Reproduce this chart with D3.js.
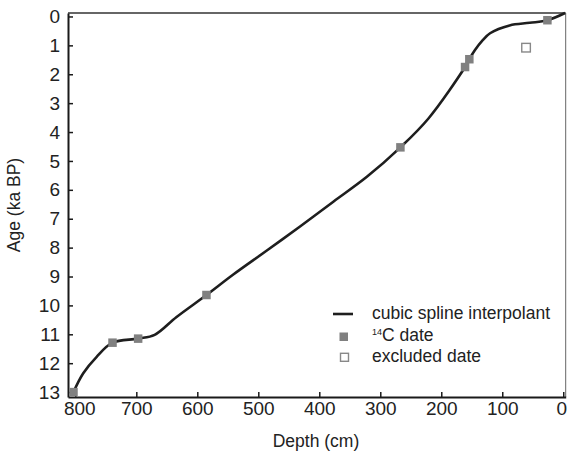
<!DOCTYPE html>
<html>
<head>
<meta charset="utf-8">
<script src="https://cdn.jsdelivr.net/npm/d3@7"></script>
<style>
  html, body { margin: 0; padding: 0; background: #fff; }
  svg { display: block; font-family: "Liberation Sans", Arial, sans-serif; }
</style>
</head>
<body>
<svg id="chart" width="567" height="458"></svg>
<script>
// Cubic spline interpolant (depth cm, age ka BP)
const splineDepth = [-3, 26, 55, 88, 120, 132, 145, 154, 161, 221, 267, 322, 377, 431, 486, 541, 585, 634, 670, 697, 739, 765, 787, 803];
const splineAge   = [-0.12, 0.13, 0.22, 0.31, 0.58, 0.82, 1.17, 1.48, 1.75, 3.53, 4.53, 5.55, 6.41, 7.26, 8.1, 8.93, 9.64, 10.4, 11.02, 11.15, 11.29, 11.78, 12.35, 13.0];
// 14C dates
const dateDepth = [26, 154, 161, 267, 585, 697, 739, 803];
const dateAge   = [0.13, 1.48, 1.75, 4.53, 9.64, 11.15, 11.29, 13.0];
// excluded dates
const exclDepth = [61];
const exclAge   = [1.08];
// ticks
const xTicks = [0, 100, 200, 300, 400, 500, 600, 700, 800];
const yTicks = [0, 1, 2, 3, 4, 5, 6, 7, 8, 9, 10, 11, 12, 13];
const legendLabels = ["cubic spline interpolant", "C date", "excluded date"];

const svg = d3.select("#chart");
const L = 68, R = 565.7, T = 13, B = 397;
const FONT = "'Liberation Sans', Arial, sans-serif";

const x = d3.scaleLinear().domain([812, -4]).range([L, R]);
const y = d3.scaleLinear().domain([-0.12, 13.17]).range([T, B]);

// frame: top and right lines
svg.append("line").attr("x1", L).attr("x2", R).attr("y1", T).attr("y2", T)
  .attr("stroke", "#333").attr("stroke-width", 1.6);
svg.append("line").attr("x1", R).attr("x2", R).attr("y1", T).attr("y2", B)
  .attr("stroke", "#666").attr("stroke-width", 1);

// axes
const xAxis = d3.axisBottom(x).tickValues(xTicks).tickSizeInner(-5).tickSizeOuter(0).tickPadding(5);
const gx = svg.append("g").attr("transform", `translate(0,${B})`).call(xAxis);
gx.select(".domain").attr("stroke", "#1a1a1a").attr("stroke-width", 2);
gx.selectAll(".tick line").attr("stroke", "#1a1a1a").attr("stroke-width", 1.5);
gx.selectAll(".tick text").attr("font-size", 19).attr("fill", "#222")
  .attr("font-family", FONT)
  .attr("dx", d => d === 0 ? -2 : (d === 800 ? 4 : 0));

const yAxis = d3.axisLeft(y).tickValues(yTicks).tickSizeInner(-5).tickSizeOuter(0).tickPadding(8);
const gy = svg.append("g").attr("transform", `translate(${L},0)`).call(yAxis);
gy.select(".domain").attr("stroke", "#1a1a1a").attr("stroke-width", 2);
gy.selectAll(".tick line").attr("stroke", "#1a1a1a").attr("stroke-width", 1.5);
gy.selectAll(".tick text").attr("font-size", 19).attr("fill", "#222")
  .attr("font-family", FONT);

// axis titles
svg.append("text").attr("x", 316).attr("y", 447).attr("text-anchor", "middle")
  .attr("font-size", 17.5).attr("fill", "#222").text("Depth (cm)");
svg.append("text").attr("transform", "translate(20,205) rotate(-90)").attr("text-anchor", "middle")
  .attr("font-size", 17.5).attr("fill", "#222").text("Age (ka BP)");

// spline curve
const spline = splineDepth.map((d, i) => [d, splineAge[i]]);
const line = d3.line().x(d => x(d[0])).y(d => y(d[1])).curve(d3.curveCatmullRom.alpha(0.5));
svg.append("path").datum(spline).attr("d", line)
  .attr("fill", "none").attr("stroke", "#1e1e1e").attr("stroke-width", 2.6);

// 14C date markers
const ms = 8.5;
const dates = dateDepth.map((d, i) => [d, dateAge[i]]);
svg.selectAll("rect.date").data(dates).enter().append("rect")
  .attr("class", "date")
  .attr("x", d => x(d[0]) - ms / 2).attr("y", d => y(d[1]) - ms / 2)
  .attr("width", ms).attr("height", ms).attr("fill", "#808080");

// excluded
const excl = exclDepth.map((d, i) => [d, exclAge[i]]);
svg.selectAll("rect.excl").data(excl).enter().append("rect")
  .attr("class", "excl")
  .attr("x", d => x(d[0]) - 4.3).attr("y", d => y(d[1]) - 4.3)
  .attr("width", 8.6).attr("height", 8.6)
  .attr("fill", "#fff").attr("stroke", "#888").attr("stroke-width", 1.4);

// legend
const lg = svg.append("g");
lg.append("line").attr("x1", 333).attr("x2", 353).attr("y1", 314).attr("y2", 314)
  .attr("stroke", "#1e1e1e").attr("stroke-width", 2.6);
lg.append("rect").attr("x", 339.5).attr("y", 332.5).attr("width", 8.5).attr("height", 8.5).attr("fill", "#808080");
lg.append("rect").attr("x", 340.5).attr("y", 353.3).attr("width", 8).attr("height", 8)
  .attr("fill", "#fff").attr("stroke", "#888").attr("stroke-width", 1.4);
lg.append("text").attr("x", 372).attr("y", 318.5).attr("font-size", 17.5).attr("fill", "#222").text(legendLabels[0]);
const t2 = lg.append("text").attr("x", 372).attr("y", 341).attr("font-size", 17.5).attr("fill", "#222");
t2.append("tspan").attr("font-size", 9).attr("dy", -6).text("14");
t2.append("tspan").attr("dy", 6).text(legendLabels[1]);
lg.append("text").attr("x", 372).attr("y", 362).attr("font-size", 17.5).attr("fill", "#222").text(legendLabels[2]);
</script>
</body>
</html>
